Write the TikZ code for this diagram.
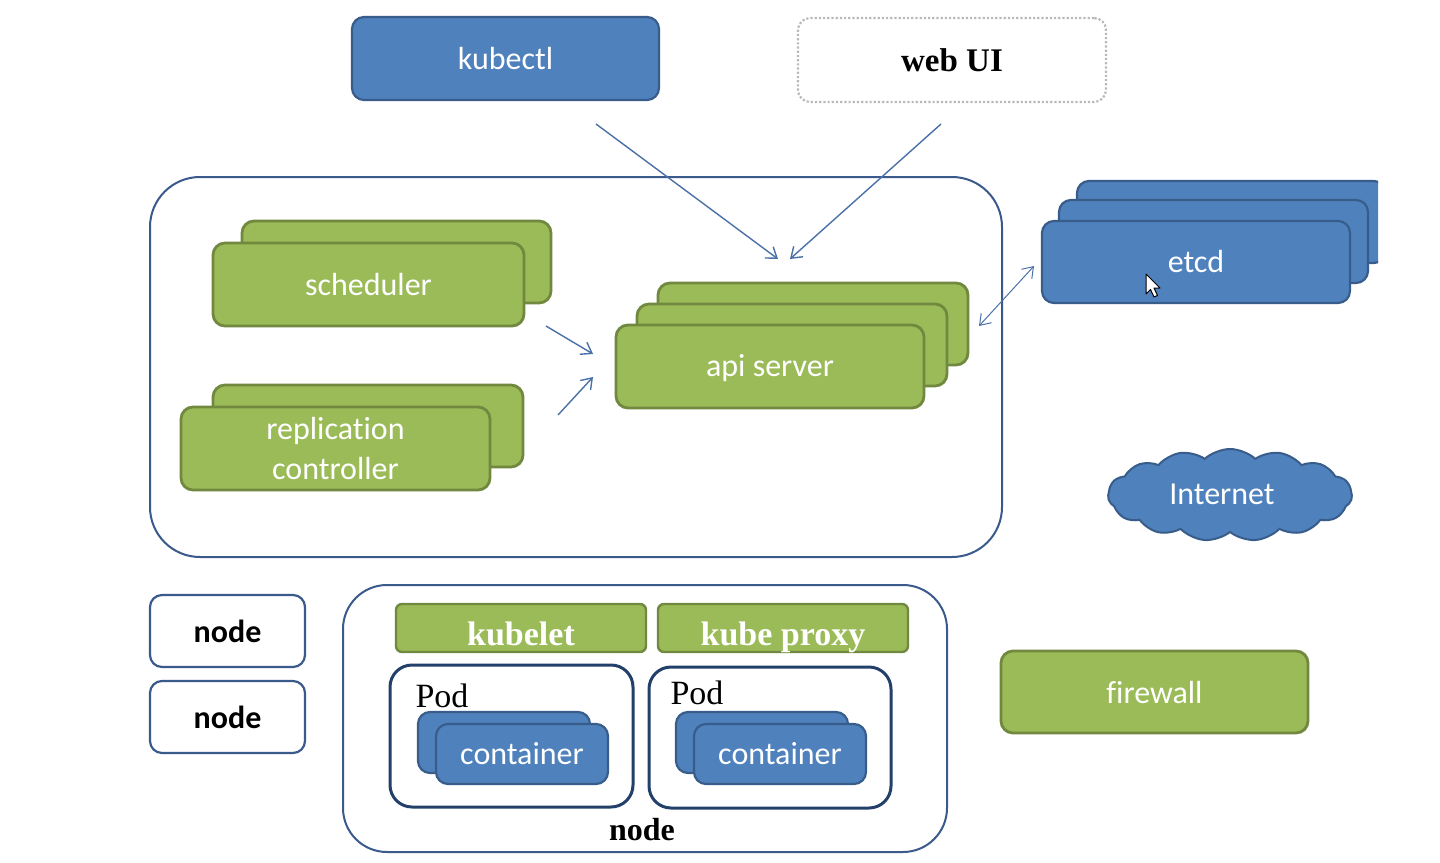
\documentclass[tikz,border=0pt]{standalone}
\usepackage{fontspec}
\setmainfont{Carlito}[Ligatures={NoCommon}]
\newfontfamily\serf{Liberation Serif}
\usetikzlibrary{shapes.symbols,arrows.meta}
\definecolor{bfill}{HTML}{4F81BD}
\definecolor{bdraw}{HTML}{385D8A}
\definecolor{gfill}{HTML}{9BBB59}
\definecolor{gdraw}{HTML}{71893F}
\definecolor{frame}{HTML}{3A5A8C}
\definecolor{podf}{HTML}{23406B}
\definecolor{arr}{HTML}{4A70A8}
\begin{document}
\begin{tikzpicture}[x=0.5pt,y=-0.5pt,
  lab/.style={font=\fontsize{16}{20}\selectfont},
  gbox/.style={draw=gdraw, fill=gfill, line width=1.4pt, rounded corners=6pt, text=white, lab, align=center, inner sep=0pt},
  bbox/.style={draw=bdraw, fill=bfill, line width=1.1pt, rounded corners=6pt, text=white, lab, inner sep=0pt},
  wframe/.style={draw=frame, fill=white, line width=1pt, inner sep=0pt},
  conn/.style={draw=arr, line width=0.7pt, -{Straight Barb[length=5pt,width=7pt]}},
  strip/.style={gbox, rounded corners=3pt, line width=1.2pt, minimum width=125pt, minimum height=24pt,
    font=\serf\bfseries\fontsize{17}{20}\selectfont, text height=19pt, text depth=2pt},
]
\useasboundingbox[fill=white] (0,0) rectangle (1440,862);

% top
\node[bbox, minimum width=153.5pt, minimum height=41.5pt] (kubectl) at (505.5,58.5) {kubectl};
\node[draw=gray!55, densely dotted, line width=1.1pt, rounded corners=6pt, minimum width=154pt, minimum height=42pt,
  font=\serf\bfseries\fontsize{16.5}{20}\selectfont] (webui) at (952,60) {web UI};

% master
\node[wframe, rounded corners=25pt, minimum width=426pt, minimum height=190pt] (master) at (576,367) {};

\node[gbox, minimum width=154.5pt, minimum height=41pt] (schedb) at (396.5,262) {};
\node[gbox, minimum width=155.5pt, minimum height=41.5pt] (sched) at (368.5,284.5) {scheduler};

\node[gbox, minimum width=155pt, minimum height=41pt] (repb) at (368,426) {};
\node[gbox, minimum width=154.5pt, minimum height=41.5pt] (rep) at (335.5,448.5) {replication\\controller};

\node[gbox, minimum width=155pt, minimum height=41pt] (apib) at (813,324) {};
\node[gbox, minimum width=155pt, minimum height=41pt] (apim) at (792,345) {};
\node[gbox, minimum width=154pt, minimum height=41.5pt, text height=13pt, text depth=3pt] (api) at (770,366.5) {api server};

% etcd
\begin{scope}
\clip (0,0) rectangle (1378,862);
\node[bbox, minimum width=154.5pt, minimum height=41pt] (etcdb) at (1231.5,222) {};
\end{scope}
\node[bbox, minimum width=154.5pt, minimum height=41.5pt] (etcdm) at (1213.5,241.5) {};
\node[bbox, minimum width=154pt, minimum height=41pt] (etcd) at (1196,262) {etcd};
% mouse cursor
\draw[fill=white, line width=0.5pt, line join=round] (1146,274) -- (1146,294) -- (1150.5,289.5) -- (1154,297) -- (1157.5,295.5) -- (1154,288) -- (1160,288) -- cycle;

% arrows
\coordinate (k1) at (596,124);
\coordinate (k2) at (778,259);
\coordinate (w1) at (941,124);
\coordinate (w2) at (790,259);
\coordinate (s1) at (546,326);
\coordinate (s2) at (593,354);
\coordinate (r1) at (558,415);
\coordinate (r2) at (593,377);
\coordinate (e1) at (979,326);
\coordinate (e2) at (1034,266);
\draw[conn] (k1) -- (k2);
\draw[conn] (w1) -- (w2);
\draw[conn] (s1) -- (s2);
\draw[conn] (r1) -- (r2);
\draw[conn, {Straight Barb[length=5pt,width=7pt]}-{Straight Barb[length=5pt,width=7pt]}, line width=0.5pt] (e1) -- (e2);

% internet
\node[cloud, cloud puffs=15, cloud puff arc=85, aspect=2.7, draw=bdraw, fill=bfill, line width=1pt,
  minimum width=122pt, minimum height=46pt, inner sep=0pt, text=white, lab] (inet) at (1230,495) {};
\node[text=white, lab, inner sep=0pt] (inetlab) at (1222,494) {Internet};

% node boxes
\node[wframe, rounded corners=6pt, minimum width=77.5pt, minimum height=36pt, line width=1.1pt,
  font=\bfseries\fontsize{16}{20}\selectfont] (node1) at (227.5,631) {node};
\node[wframe, rounded corners=6pt, minimum width=77.5pt, minimum height=36pt, line width=1.1pt,
  font=\bfseries\fontsize{16}{20}\selectfont] (node2) at (227.5,717) {node};

\node[wframe, rounded corners=22pt, minimum width=302pt, minimum height=133.5pt] (bignode) at (645,718.5) {};
\node[font=\serf\bfseries\fontsize{16}{20}\selectfont, inner sep=0pt] (bignodelab) at (642,830) {node};

\node[strip] (kubelet) at (521,628) {kubelet};
\node[strip] (proxy) at (783,628) {kube proxy};

\node[draw=podf, fill=white, line width=1.5pt, rounded corners=11pt, minimum width=121.5pt, minimum height=71pt] (pod1) at (511.5,736) {};
\node[draw=podf, fill=white, line width=1.5pt, rounded corners=11pt, minimum width=121pt, minimum height=70.5pt] (pod2) at (770,737.5) {};
\node[font=\serf\fontsize{17}{20}\selectfont, inner sep=0pt] (pod1lab) at (442,696) {Pod};
\node[font=\serf\fontsize{17}{20}\selectfont, inner sep=0pt] (pod2lab) at (697,693) {Pod};

\node[bbox, minimum width=86pt, minimum height=30.5pt] (c1b) at (504,742.5) {};
\node[bbox, minimum width=86pt, minimum height=30pt] (c1) at (522,754) {container};
\node[bbox, minimum width=86pt, minimum height=30.5pt] (c2b) at (762,742.5) {};
\node[bbox, minimum width=86pt, minimum height=30pt] (c2) at (780,754) {container};

% firewall
\node[gbox, minimum width=153.5pt, minimum height=41pt] (firewall) at (1154.5,692) {firewall};
\end{tikzpicture}
\end{document}
